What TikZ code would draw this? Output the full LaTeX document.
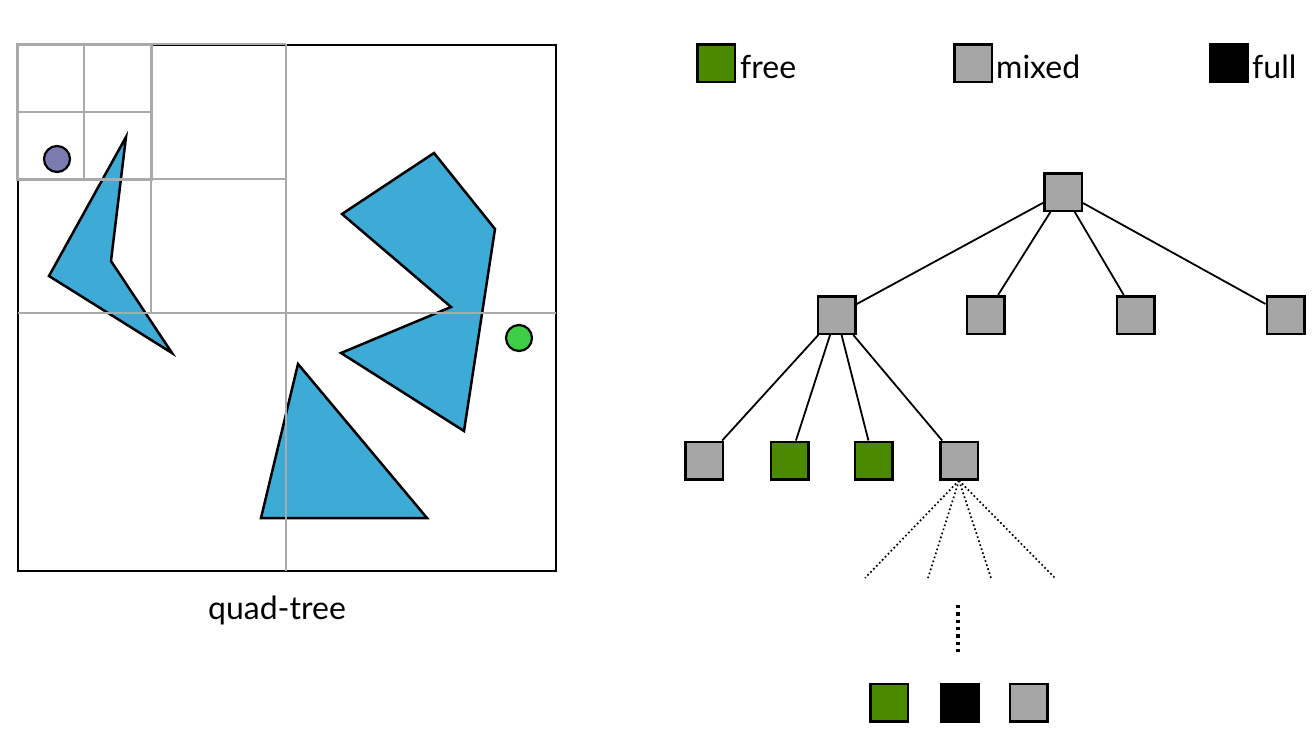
\documentclass[tikz,border=0pt]{standalone}
\usepackage{fontspec}
\setmainfont{Lato}
\definecolor{mixgray}{RGB}{166,166,166}
\definecolor{freegreen}{RGB}{75,138,0}
\definecolor{obsblue}{RGB}{62,170,214}
\definecolor{gridgray}{RGB}{170,170,170}
\definecolor{goalgreen}{RGB}{60,207,70}
\definecolor{startpurple}{RGB}{123,123,176}
\begin{document}
\begin{tikzpicture}[x=1pt,y=-1pt,
  cell/.style={rectangle, draw=black, line width=2.5pt, minimum width=37.5pt, minimum height=37.5pt, inner sep=0pt},
  mixedcell/.style={cell, fill=mixgray},
  freecell/.style={cell, fill=freegreen},
  fullcell/.style={cell, fill=black},
  edge/.style={draw=black, line width=1.8pt},
  fan/.style={line width=1.7pt, dash pattern=on 1.7pt off 2.5pt},
  vdots/.style={line width=3.3pt, dash pattern=on 3.3pt off 4pt},
  obstacle/.style={draw=black, line width=2.5pt, fill=obsblue},
  gridline/.style={draw=gridgray, line width=2.2pt},
  gridthick/.style={draw=gridgray, line width=3pt},
  lbl/.style={font=\fontsize{32}{38}\selectfont, inner sep=0pt, anchor=base west}
]
\fill[white] (0,0) rectangle (1315,750);
\useasboundingbox (0,0) rectangle (1315,750);

% ---------- quad-tree picture ----------
% obstacles
\draw[obstacle] (126,137) -- (111,261) -- (172,353) -- (49,276) -- cycle;
\draw[obstacle] (434,153) -- (495,229) -- (464,431) -- (341,353) -- (451,307) -- (342,214) -- cycle;
\draw[obstacle] (298,364) -- (427,518) -- (261,518) -- cycle;
% start and goal
\draw[line width=2.2pt, fill=startpurple] (57,159) circle (13);
\draw[line width=2.2pt, fill=goalgreen] (519,338) circle (13);
% outer box
\draw[line width=2.5pt] (18,45) rectangle (556,571);
% grid
\draw[gridline] (286,44) -- (286,571);
\draw[gridline] (18,313) -- (556,313);
\draw[gridline] (17,44) -- (286,44);
\draw[gridline] (151,44) -- (151,313);
\draw[gridline] (18,179) -- (286,179);
\draw[gridline] (84,44) -- (84,179);
\draw[gridline] (17,112) -- (151,112);
\draw[gridthick] (17,44) rectangle (151,179);

\node[font=\fontsize{32}{38}\selectfont, anchor=base, inner sep=0pt] (cap) at (277,619) {quad-tree};

% ---------- legend ----------
\node[freecell] (legfree) at (716,63) {};
\node[lbl] (legfreetxt) at (740,78) {free};
\node[mixedcell] (legmixed) at (973,63) {};
\node[lbl] (legmixedtxt) at (996,78) {mixed};
\node[fullcell] (legfull) at (1229,63) {};
\node[lbl] (legfulltxt) at (1252,78) {full};

% ---------- tree ----------
\node[mixedcell] (root) at (1063,192) {};
\node[mixedcell] (a1) at (836.5,315) {};
\node[mixedcell] (a2) at (985.5,315) {};
\node[mixedcell] (a3) at (1135.5,315) {};
\node[mixedcell] (a4) at (1285.5,315) {};
\node[mixedcell] (b1) at (704,460.5) {};
\node[freecell] (b2) at (789.5,460.5) {};
\node[freecell] (b3) at (873.5,460.5) {};
\node[mixedcell] (b4) at (959,460.5) {};
\node[freecell] (c1) at (889,702.5) {};
\node[fullcell] (c2) at (959.5,702.5) {};
\node[mixedcell] (c3) at (1028.5,702.5) {};

\foreach \n in {a1,a2,a3,a4} \draw[edge] (root) -- (\n);
\foreach \n in {b1,b2,b3,b4} \draw[edge] (a1) -- (\n);

\coordinate (f1) at (865,578);
\coordinate (f2) at (928,578);
\coordinate (f3) at (991,578);
\coordinate (f4) at (1055,578);
\foreach \f in {f1,f2,f3,f4} \draw[fan] (b4.south) -- (\f);

\coordinate (v1) at (958,605);
\coordinate (v2) at (958,656);
\draw[vdots] (v1) -- (v2);
\end{tikzpicture}
\end{document}
